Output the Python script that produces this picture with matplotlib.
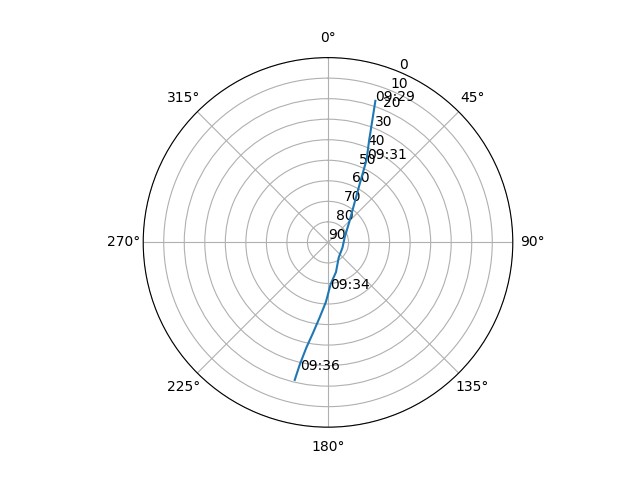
import numpy as np
import matplotlib
matplotlib.use('Agg')
import matplotlib.pyplot as plt

# satellite pass track: azimuth (deg) and elevation (deg)
azimuth = [18.5, 20.0, 22.0, 25.0, 28.5, 34.0, 45.0, 73.0, 110.0, 144.5, 165.0, 176.3, 182.0, 186.3, 189.5, 191.6, 193.0, 193.6]
elevation = [17.3, 27.0, 36.6, 45.5, 57.7, 67.0, 75.1, 81.5, 82.5, 81.0, 75.0, 69.7, 61.0, 53.3, 45.0, 37.8, 29.0, 21.1]

label_times = ['09:29', '09:31', '09:34', '09:36']
label_az = [18.5, 25.0, 177.0, 192.3]
label_el = [17.3, 45.2, 67.5, 26.3]

fig = plt.figure(figsize=(6.4, 4.8), dpi=100)
ax = fig.add_subplot(111, projection='polar')
ax.set_theta_zero_location('N')
ax.set_theta_direction(-1)

ax.plot(np.radians(azimuth), elevation)
for t, a, e in zip(label_times, label_az, label_el):
    ax.text(np.radians(a), e, t)

ax.set_ylim(90, 0)
ax.set_yticks(range(0, 91, 10))

plt.savefig('out.png')
